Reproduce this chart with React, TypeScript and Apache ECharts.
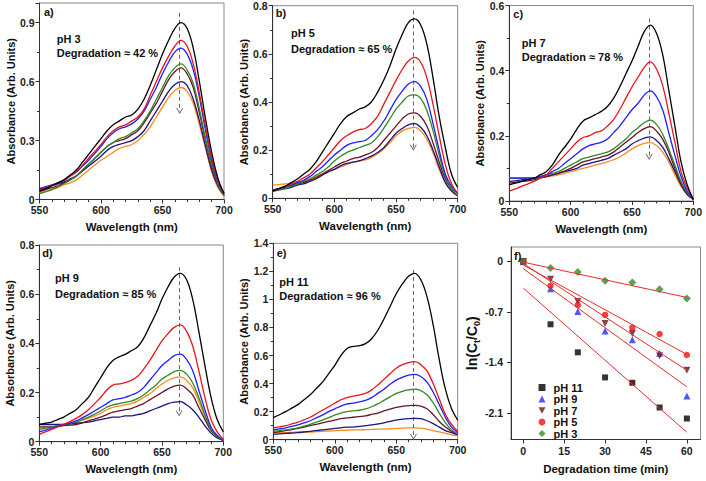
import React, { useEffect, useRef } from "react";
import * as echarts from "echarts";

// ---------- data ----------
const WAVELENGTH = [550, 555, 560, 565, 570, 575, 580, 585, 590, 595, 600, 605, 610, 615, 620, 625, 630, 635, 640, 645, 650, 655, 660, 665, 670, 675, 680, 685, 690, 695, 700];

// panel a) pH 3
const pH3_t0 = [0.045, 0.055, 0.07, 0.085, 0.1, 0.125, 0.15, 0.19, 0.23, 0.27, 0.31, 0.35, 0.38, 0.4, 0.42, 0.43, 0.46, 0.51, 0.58, 0.66, 0.74, 0.81, 0.87, 0.9, 0.87, 0.77, 0.6, 0.41, 0.24, 0.11, 0.03];
const pH3_t10 = [0.05, 0.06, 0.07, 0.085, 0.1, 0.12, 0.14, 0.175, 0.21, 0.245, 0.28, 0.32, 0.35, 0.37, 0.38, 0.4, 0.42, 0.46, 0.53, 0.6, 0.67, 0.73, 0.78, 0.81, 0.78, 0.69, 0.54, 0.37, 0.21, 0.1, 0.03];
const pH3_t20 = [0.055, 0.065, 0.075, 0.085, 0.1, 0.12, 0.14, 0.17, 0.2, 0.235, 0.27, 0.31, 0.34, 0.36, 0.37, 0.385, 0.41, 0.45, 0.51, 0.57, 0.64, 0.7, 0.75, 0.77, 0.74, 0.66, 0.52, 0.35, 0.2, 0.09, 0.03];
const pH3_t30 = [0.03, 0.04, 0.05, 0.065, 0.08, 0.1, 0.12, 0.15, 0.18, 0.21, 0.24, 0.27, 0.29, 0.31, 0.32, 0.34, 0.36, 0.4, 0.45, 0.51, 0.57, 0.63, 0.67, 0.69, 0.66, 0.59, 0.46, 0.31, 0.18, 0.08, 0.02];
const pH3_t40 = [0.04, 0.05, 0.06, 0.07, 0.085, 0.1, 0.12, 0.15, 0.18, 0.21, 0.24, 0.27, 0.29, 0.3, 0.31, 0.33, 0.35, 0.39, 0.44, 0.49, 0.55, 0.61, 0.65, 0.67, 0.64, 0.57, 0.44, 0.3, 0.17, 0.08, 0.02];
const pH3_t50 = [0.055, 0.06, 0.07, 0.08, 0.09, 0.105, 0.12, 0.145, 0.17, 0.195, 0.22, 0.25, 0.27, 0.28, 0.29, 0.3, 0.32, 0.35, 0.4, 0.45, 0.5, 0.55, 0.585, 0.6, 0.58, 0.51, 0.4, 0.27, 0.15, 0.07, 0.02];
const pH3_t60 = [0.035, 0.04, 0.05, 0.06, 0.075, 0.085, 0.1, 0.125, 0.15, 0.175, 0.2, 0.22, 0.24, 0.26, 0.27, 0.28, 0.3, 0.33, 0.37, 0.42, 0.47, 0.52, 0.555, 0.57, 0.55, 0.49, 0.38, 0.26, 0.14, 0.06, 0.02];

// panel b) pH 5
const pH5_t0 = [0.03, 0.04, 0.05, 0.065, 0.08, 0.1, 0.12, 0.15, 0.19, 0.23, 0.27, 0.31, 0.34, 0.355, 0.37, 0.38, 0.4, 0.44, 0.49, 0.55, 0.62, 0.68, 0.73, 0.745, 0.72, 0.64, 0.5, 0.34, 0.21, 0.1, 0.045];
const pH5_t10 = [0.03, 0.04, 0.05, 0.06, 0.07, 0.085, 0.1, 0.125, 0.15, 0.18, 0.21, 0.24, 0.26, 0.275, 0.285, 0.29, 0.31, 0.34, 0.39, 0.44, 0.49, 0.535, 0.57, 0.585, 0.565, 0.5, 0.39, 0.26, 0.14, 0.06, 0.02];
const pH5_t20 = [0.035, 0.04, 0.05, 0.055, 0.065, 0.075, 0.09, 0.11, 0.13, 0.155, 0.18, 0.2, 0.22, 0.23, 0.235, 0.24, 0.26, 0.285, 0.32, 0.365, 0.41, 0.445, 0.475, 0.485, 0.465, 0.41, 0.31, 0.2, 0.1, 0.05, 0.02];
const pH5_t30 = [0.03, 0.035, 0.04, 0.05, 0.06, 0.07, 0.08, 0.095, 0.11, 0.13, 0.155, 0.175, 0.19, 0.2, 0.21, 0.22, 0.23, 0.255, 0.29, 0.33, 0.37, 0.4, 0.425, 0.43, 0.415, 0.365, 0.28, 0.18, 0.09, 0.04, 0.01];
const pH5_t40 = [0.035, 0.04, 0.045, 0.05, 0.06, 0.065, 0.075, 0.085, 0.1, 0.115, 0.13, 0.145, 0.155, 0.165, 0.17, 0.18, 0.19, 0.21, 0.24, 0.27, 0.3, 0.33, 0.35, 0.355, 0.34, 0.3, 0.23, 0.15, 0.08, 0.04, 0.01];
const pH5_t50 = [0.03, 0.035, 0.04, 0.045, 0.055, 0.06, 0.07, 0.08, 0.095, 0.11, 0.12, 0.135, 0.145, 0.15, 0.155, 0.165, 0.175, 0.19, 0.21, 0.24, 0.27, 0.29, 0.305, 0.31, 0.295, 0.26, 0.2, 0.13, 0.065, 0.03, 0.01];
const pH5_t60 = [0.055, 0.057, 0.06, 0.062, 0.065, 0.07, 0.08, 0.09, 0.1, 0.11, 0.12, 0.13, 0.14, 0.15, 0.155, 0.16, 0.17, 0.185, 0.205, 0.23, 0.26, 0.28, 0.29, 0.295, 0.28, 0.245, 0.19, 0.12, 0.065, 0.03, 0.01];

// panel c) pH 7
const pH7_t0 = [0.05, 0.055, 0.06, 0.065, 0.07, 0.08, 0.09, 0.11, 0.14, 0.165, 0.19, 0.22, 0.245, 0.255, 0.265, 0.275, 0.29, 0.315, 0.35, 0.39, 0.43, 0.475, 0.52, 0.54, 0.515, 0.45, 0.34, 0.23, 0.12, 0.05, 0.005];
const pH7_t10 = [0.03, 0.037, 0.045, 0.052, 0.06, 0.07, 0.08, 0.1, 0.12, 0.14, 0.16, 0.18, 0.195, 0.2, 0.21, 0.215, 0.23, 0.25, 0.28, 0.315, 0.35, 0.38, 0.41, 0.427, 0.405, 0.355, 0.27, 0.18, 0.09, 0.04, 0.005];
const pH7_t20 = [0.07, 0.07, 0.07, 0.07, 0.07, 0.075, 0.08, 0.09, 0.1, 0.115, 0.13, 0.145, 0.16, 0.17, 0.175, 0.18, 0.19, 0.21, 0.23, 0.255, 0.28, 0.3, 0.325, 0.338, 0.32, 0.28, 0.21, 0.14, 0.075, 0.03, 0.005];
const pH7_t30 = [0.07, 0.07, 0.07, 0.07, 0.07, 0.075, 0.08, 0.085, 0.09, 0.1, 0.11, 0.12, 0.13, 0.135, 0.14, 0.145, 0.15, 0.16, 0.175, 0.19, 0.21, 0.225, 0.24, 0.248, 0.235, 0.205, 0.16, 0.11, 0.06, 0.025, 0.005];
const pH7_t40 = [0.055, 0.057, 0.06, 0.062, 0.065, 0.07, 0.075, 0.08, 0.085, 0.092, 0.1, 0.11, 0.12, 0.125, 0.13, 0.135, 0.14, 0.15, 0.165, 0.18, 0.195, 0.21, 0.222, 0.228, 0.215, 0.19, 0.15, 0.1, 0.055, 0.025, 0.005];
const pH7_t50 = [0.06, 0.062, 0.065, 0.067, 0.07, 0.072, 0.075, 0.08, 0.085, 0.09, 0.095, 0.1, 0.11, 0.115, 0.12, 0.125, 0.13, 0.14, 0.15, 0.16, 0.175, 0.185, 0.193, 0.197, 0.186, 0.165, 0.13, 0.09, 0.05, 0.02, 0.005];
const pH7_t60 = [0.07, 0.07, 0.07, 0.07, 0.07, 0.072, 0.075, 0.077, 0.08, 0.085, 0.09, 0.095, 0.1, 0.105, 0.11, 0.115, 0.12, 0.127, 0.135, 0.147, 0.16, 0.17, 0.177, 0.179, 0.17, 0.15, 0.12, 0.08, 0.045, 0.02, 0.005];

// panel d) pH 9
const pH9_t0 = [0.07, 0.075, 0.08, 0.09, 0.1, 0.115, 0.13, 0.155, 0.18, 0.22, 0.26, 0.3, 0.33, 0.345, 0.355, 0.37, 0.385, 0.42, 0.47, 0.52, 0.58, 0.63, 0.67, 0.685, 0.66, 0.58, 0.45, 0.31, 0.18, 0.09, 0.04];
const pH9_t10 = [0.03, 0.04, 0.05, 0.06, 0.07, 0.082, 0.095, 0.11, 0.13, 0.155, 0.18, 0.21, 0.23, 0.235, 0.24, 0.25, 0.265, 0.295, 0.33, 0.37, 0.41, 0.44, 0.465, 0.475, 0.45, 0.39, 0.29, 0.18, 0.09, 0.04, 0.01];
const pH9_t20 = [0.04, 0.047, 0.055, 0.062, 0.07, 0.077, 0.085, 0.097, 0.11, 0.125, 0.14, 0.155, 0.17, 0.175, 0.18, 0.19, 0.2, 0.22, 0.25, 0.28, 0.31, 0.33, 0.35, 0.356, 0.335, 0.29, 0.21, 0.13, 0.06, 0.025, 0.005];
const pH9_t30 = [0.05, 0.055, 0.06, 0.065, 0.07, 0.075, 0.08, 0.09, 0.1, 0.112, 0.125, 0.14, 0.15, 0.155, 0.16, 0.165, 0.175, 0.19, 0.21, 0.23, 0.255, 0.27, 0.285, 0.29, 0.275, 0.24, 0.18, 0.11, 0.05, 0.02, 0.005];
const pH9_t40 = [0.06, 0.06, 0.06, 0.062, 0.065, 0.067, 0.07, 0.077, 0.085, 0.092, 0.1, 0.11, 0.12, 0.125, 0.13, 0.135, 0.145, 0.155, 0.17, 0.185, 0.2, 0.215, 0.226, 0.23, 0.215, 0.19, 0.14, 0.09, 0.045, 0.02, 0.005];
const pH9_t50 = [0.07, 0.07, 0.07, 0.07, 0.07, 0.072, 0.075, 0.077, 0.08, 0.085, 0.09, 0.095, 0.1, 0.1, 0.105, 0.105, 0.11, 0.115, 0.125, 0.135, 0.145, 0.155, 0.161, 0.163, 0.15, 0.13, 0.1, 0.065, 0.035, 0.015, 0.005];
const pH9_t60 = [0.055, 0.057, 0.06, 0.065, 0.07, 0.075, 0.08, 0.087, 0.095, 0.105, 0.115, 0.13, 0.14, 0.145, 0.15, 0.155, 0.165, 0.18, 0.195, 0.215, 0.235, 0.25, 0.26, 0.264, 0.25, 0.22, 0.165, 0.1, 0.05, 0.02, 0.005];

// panel e) pH 11
const pH11_t0 = [0.157, 0.178, 0.2, 0.225, 0.25, 0.285, 0.32, 0.365, 0.41, 0.47, 0.53, 0.6, 0.65, 0.665, 0.67, 0.685, 0.72, 0.78, 0.86, 0.95, 1.04, 1.11, 1.165, 1.186, 1.14, 1.02, 0.82, 0.57, 0.36, 0.22, 0.14];
const pH11_t10 = [0.085, 0.092, 0.1, 0.112, 0.125, 0.142, 0.16, 0.185, 0.21, 0.235, 0.26, 0.285, 0.3, 0.31, 0.32, 0.33, 0.355, 0.39, 0.43, 0.47, 0.51, 0.535, 0.55, 0.556, 0.535, 0.49, 0.4, 0.29, 0.18, 0.11, 0.06];
const pH11_t20 = [0.07, 0.077, 0.085, 0.095, 0.105, 0.12, 0.135, 0.155, 0.175, 0.2, 0.22, 0.24, 0.255, 0.26, 0.27, 0.28, 0.3, 0.33, 0.36, 0.395, 0.425, 0.445, 0.46, 0.465, 0.45, 0.41, 0.34, 0.25, 0.16, 0.09, 0.05];
const pH11_t30 = [0.06, 0.065, 0.07, 0.077, 0.085, 0.097, 0.11, 0.125, 0.14, 0.157, 0.175, 0.19, 0.2, 0.205, 0.21, 0.22, 0.235, 0.255, 0.28, 0.305, 0.33, 0.345, 0.355, 0.36, 0.35, 0.32, 0.265, 0.19, 0.12, 0.07, 0.04];
const pH11_t40 = [0.05, 0.057, 0.065, 0.072, 0.08, 0.09, 0.1, 0.11, 0.12, 0.13, 0.14, 0.15, 0.155, 0.16, 0.165, 0.17, 0.18, 0.19, 0.205, 0.218, 0.23, 0.238, 0.243, 0.245, 0.24, 0.22, 0.18, 0.13, 0.09, 0.06, 0.04];
const pH11_t50 = [0.04, 0.042, 0.045, 0.047, 0.05, 0.055, 0.06, 0.065, 0.07, 0.075, 0.08, 0.085, 0.09, 0.09, 0.095, 0.1, 0.105, 0.112, 0.12, 0.13, 0.14, 0.146, 0.15, 0.152, 0.15, 0.135, 0.115, 0.09, 0.065, 0.05, 0.035];
const pH11_t60 = [0.05, 0.05, 0.05, 0.052, 0.055, 0.055, 0.055, 0.057, 0.06, 0.062, 0.065, 0.067, 0.068, 0.07, 0.07, 0.072, 0.073, 0.075, 0.076, 0.078, 0.08, 0.082, 0.084, 0.085, 0.083, 0.075, 0.065, 0.055, 0.045, 0.035, 0.03];

// panel f) kinetics
const TIME = [0, 10, 20, 30, 40, 50, 60];
const LN_pH11 = [0, -0.872, -1.261, -1.609, -1.683, -2.026, -2.179];
const LN_pH9 = [0, -0.38, -0.695, -0.964, -1.085, -1.275, -1.868];
const LN_pH7 = [0, -0.246, -0.556, -0.862, -1.001, -1.307, -1.511];
const LN_pH5 = [0, -0.338, -0.603, -0.742, -0.918, -1.006, -1.298];
const LN_pH3 = [0, -0.093, -0.148, -0.269, -0.292, -0.385, -0.515];
const FIT_TIME = [0, 60];
const FIT_pH11 = [-0.37, -2.37];
const FIT_pH9 = [-0.1, -1.74];
const FIT_pH7 = [-0.03, -1.51];
const FIT_pH5 = [-0.05, -1.29];
const FIT_pH3 = [-0.01, -0.5];

const PANEL_LABELS = ["a)", "b)", "c)", "d)", "e)", "f)"];
const PH_LABELS = ["pH 3", "pH 5", "pH 7", "pH 9", "pH 11"];
const DEGRADATION = [42, 65, 78, 85, 96];
const Y_MAX = [1.0, 0.8, 0.6, 0.8, 1.4];
const Y_INTERVAL = [0.3, 0.2, 0.2, 0.2, 0.2];
const ARROW_TOP = [0.95, 0.78, 0.56, 0.71, 1.21];
const ARROW_TIP = [0.45, 0.21, 0.135, 0.115, 0.02];
const PEAK_NM = 664;
const F_X_TICKS = [0, 15, 30, 45, 60];
const F_Y_TICKS = [0, -0.7, -1.4, -2.1];

const SPECTRA = [
  [pH3_t0, pH3_t10, pH3_t20, pH3_t30, pH3_t40, pH3_t50, pH3_t60],
  [pH5_t0, pH5_t10, pH5_t20, pH5_t30, pH5_t40, pH5_t50, pH5_t60],
  [pH7_t0, pH7_t10, pH7_t20, pH7_t30, pH7_t40, pH7_t50, pH7_t60],
  [pH9_t0, pH9_t10, pH9_t20, pH9_t30, pH9_t40, pH9_t50, pH9_t60],
  [pH11_t0, pH11_t10, pH11_t20, pH11_t30, pH11_t40, pH11_t50, pH11_t60],
];

// ---------- styling / layout ----------
const FONT = 'Arial, "Liberation Sans", Helvetica, sans-serif';
const CURVE_COLORS = ["#000000", "#e8141c", "#1f1fff", "#2f8a25", "#6a1326", "#16167e", "#ff8a1e"];
const DOWN_TRIANGLE = "path://M0,0 L10,0 L5,9 Z";
const GRIDS = [
  [39.5, 3, 184.5, 196.5],
  [272.7, 5.7, 185, 192.6],
  [509.3, 5, 184, 196],
  [39.3, 245, 184, 196.7],
  [273.3, 243.3, 184.4, 196.4],
  [511, 247, 189.5, 192.5],
];
const LABEL_POS = [
  [44, 12],
  [275.7, 13.3],
  [513.3, 14.3],
  [42.3, 253.3],
  [276.7, 253.3],
  [514, 256],
];
const TEXT_POS = [
  [56.7, 39.3, 53.3],
  [291, 33.3, 49],
  [521.7, 42.7, 57.3],
  [55, 278.3, 294],
  [279.3, 281.7, 296],
];

const AXIS_COLOR = "#333";
const LABEL_STYLE = { fontSize: 10.5, fontWeight: "bold", color: "#222", fontFamily: FONT };

function buildOption() {
  const grid = GRIDS.map((g) => ({
    left: g[0], top: g[1], width: g[2], height: g[3],
    show: true, borderColor: "#888", borderWidth: 1, backgroundColor: "transparent",
  }));

  const xAxis: any[] = [];
  const yAxis: any[] = [];
  for (let i = 0; i < 5; i++) {
    xAxis.push({
      type: "value", gridIndex: i, min: 550, max: 700, interval: 50,
      axisLine: { show: true, onZero: false, lineStyle: { color: AXIS_COLOR, width: 1 } },
      axisTick: { show: true, inside: false, length: 4, lineStyle: { color: AXIS_COLOR } },
      minorTick: { show: true, splitNumber: 5, length: 2.5, lineStyle: { color: AXIS_COLOR } },
      splitLine: { show: false },
      axisLabel: { ...LABEL_STYLE, margin: 5 },
      name: "Wavelength (nm)", nameLocation: "middle", nameGap: 21.5,
      nameTextStyle: { fontSize: 11.5, fontWeight: "bold", color: "#111", fontFamily: FONT },
    });
    yAxis.push({
      type: "value", gridIndex: i, min: 0, max: Y_MAX[i], interval: Y_INTERVAL[i],
      axisLine: { show: true, onZero: false, lineStyle: { color: AXIS_COLOR, width: 1 } },
      axisTick: { show: true, inside: false, length: 4, lineStyle: { color: AXIS_COLOR } },
      minorTick: { show: true, splitNumber: 2, length: 2.5, lineStyle: { color: AXIS_COLOR } },
      splitLine: { show: false },
      axisLabel: { ...LABEL_STYLE, margin: 5, showMaxLabel: i === 0 ? false : true },
      name: "Absorbance (Arb. Units)", nameLocation: "middle", nameGap: 21,
      nameTextStyle: { fontSize: 11, fontWeight: "bold", color: "#111", fontFamily: FONT },
    });
  }
  xAxis.push({
    type: "value", gridIndex: 5, min: -4.5, max: 65,
    axisLine: { show: true, onZero: false, lineStyle: { color: AXIS_COLOR, width: 1 } },
    axisTick: { show: true, inside: false, length: 4, lineStyle: { color: AXIS_COLOR }, customValues: F_X_TICKS },
    splitLine: { show: false },
    axisLabel: { ...LABEL_STYLE, margin: 6, customValues: F_X_TICKS },
    name: "Degradation time (min)", nameLocation: "middle", nameGap: 23,
    nameTextStyle: { fontSize: 11.5, fontWeight: "bold", color: "#111", fontFamily: FONT },
  });
  yAxis.push({
    type: "value", gridIndex: 5, min: -2.47, max: 0.2,
    axisLine: { show: true, onZero: false, lineStyle: { color: AXIS_COLOR, width: 1 } },
    axisTick: { show: true, inside: false, length: 4, lineStyle: { color: AXIS_COLOR }, customValues: F_Y_TICKS },
    splitLine: { show: false },
    axisLabel: { ...LABEL_STYLE, margin: 8, customValues: F_Y_TICKS },
    name: "{n|ln(C}{s|t}{n|/C}{s|0}{n|)}", nameLocation: "middle", nameGap: 21,
    nameTextStyle: {
      fontFamily: FONT, color: "#111",
      rich: {
        n: { fontSize: 14, fontWeight: "bold", fontFamily: FONT, color: "#111", lineHeight: 18 },
        s: { fontSize: 9, fontWeight: "bold", fontFamily: FONT, color: "#111", lineHeight: 18, verticalAlign: "bottom" },
      },
    },
  });

  const series: any[] = [];
  SPECTRA.forEach((curves, i) => {
    curves.forEach((vals, j) => {
      const s: any = {
        type: "line", xAxisIndex: i, yAxisIndex: i, name: `s${i}_${j}`,
        data: WAVELENGTH.map((w, k) => [w, vals[k]]),
        showSymbol: false, symbol: "none", smooth: 0.4,
        lineStyle: { color: CURVE_COLORS[j], width: 1.3 },
        itemStyle: { color: CURVE_COLORS[j] },
        silent: true, z: 10 - j,
      };
      if (j === 0) {
        s.markLine = {
          silent: true, animation: false,
          symbol: ["none", "path://M5,0 L10,9 L8.6,9 L5,2.6 L1.4,9 L0,9 Z"],
          symbolSize: [7, 6],
          label: { show: false },
          lineStyle: { type: [4, 3], color: "#666", width: 1 },
          emphasis: { disabled: true },
          data: [[{ coord: [PEAK_NM, ARROW_TOP[i]] }, { coord: [PEAK_NM, ARROW_TIP[i]] }]],
        };
      }
      series.push(s);
    });
  });

  const fits: [number[], string][] = [
    [FIT_pH11, "fit11"], [FIT_pH9, "fit9"], [FIT_pH7, "fit7"], [FIT_pH5, "fit5"], [FIT_pH3, "fit3"],
  ];
  fits.forEach(([vals, nm]) => {
    series.push({
      type: "line", name: nm, xAxisIndex: 5, yAxisIndex: 5,
      data: FIT_TIME.map((t, k) => [t, vals[k]]),
      showSymbol: false, symbol: "none",
      lineStyle: { color: "#ee2a2a", width: 1 }, silent: true, z: 3,
    });
  });

  const scatters: [string, number[], string, string, number][] = [
    ["pH 11", LN_pH11, "rect", "#000000", 6],
    ["pH 9", LN_pH9, "triangle", "#1f2fff", 7],
    ["pH 7", LN_pH7, DOWN_TRIANGLE, "#6a1326", 7],
    ["pH 5", LN_pH5, "circle", "#ee1111", 6.5],
    ["pH 3", LN_pH3, "diamond", "#3a8a2a", 8],
  ];
  scatters.forEach(([nm, vals, sym, col, size]) => {
    series.push({
      type: "scatter", name: nm, xAxisIndex: 5, yAxisIndex: 5,
      data: TIME.map((t, k) => [t, vals[k]]),
      symbol: sym, symbolSize: size,
      itemStyle: { color: col }, z: 2, silent: true,
    });
  });

  const graphic: any[] = [];
  PANEL_LABELS.forEach((t, i) => {
    graphic.push({
      type: "text", x: LABEL_POS[i][0], y: LABEL_POS[i][1], silent: true,
      style: { text: t, fontSize: 11, fontWeight: "bold", fontFamily: FONT, fill: "#111", verticalAlign: "middle", textVerticalAlign: "middle" },
    });
  });
  PH_LABELS.forEach((t, i) => {
    graphic.push({
      type: "text", x: TEXT_POS[i][0], y: TEXT_POS[i][1], silent: true,
      style: { text: t, fontSize: 11, fontWeight: "bold", fontFamily: FONT, fill: "#111", verticalAlign: "middle", textVerticalAlign: "middle" },
    });
    graphic.push({
      type: "text", x: TEXT_POS[i][0], y: TEXT_POS[i][2], silent: true,
      style: { text: `Degradation \u2248 ${DEGRADATION[i]} %`, fontSize: 11, fontWeight: "bold", fontFamily: FONT, fill: "#111", verticalAlign: "middle", textVerticalAlign: "middle" },
    });
  });

  return {
    animation: false,
    backgroundColor: "#ffffff",
    grid, xAxis, yAxis, series, graphic,
    legend: {
      show: true, orient: "vertical", left: 533.5, top: 377,
      itemWidth: 7, itemHeight: 7, itemGap: 0.5,
      data: ["pH 11", "pH 9", "pH 7", "pH 5", "pH 3"],
      textStyle: { fontSize: 11, fontWeight: "bold", fontFamily: FONT, color: "#111", lineHeight: 11, padding: [0, 0, 0, 3] },
      selectedMode: false,
    },
  };
}

export default function App() {
  const ref = useRef<HTMLDivElement>(null);
  useEffect(() => {
    if (!ref.current) return;
    const chart = echarts.init(ref.current, undefined, { renderer: "svg" });
    chart.setOption(buildOption() as any);
    return () => chart.dispose();
  }, []);
  return (
    <div
      ref={ref}
      style={{ position: "absolute", left: 0, top: 0, width: 706, height: 481, background: "#fff" }}
    />
  );
}
